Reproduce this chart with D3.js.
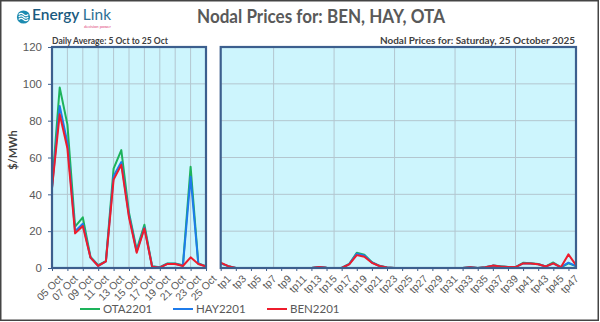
<!DOCTYPE html>
<html><head><meta charset="utf-8">
<script src="https://cdn.jsdelivr.net/npm/d3@7"></script>
<style>html,body{margin:0;padding:0;background:#fff;}svg{display:block;font-family:Lato,"Open Sans",sans-serif;}</style>
</head><body>
<svg id="c" width="600" height="322"></svg>
<script>
const days = ["05 Oct","06 Oct","07 Oct","08 Oct","09 Oct","10 Oct","11 Oct","12 Oct","13 Oct","14 Oct","15 Oct","16 Oct","17 Oct","18 Oct","19 Oct","20 Oct","21 Oct","22 Oct","23 Oct","24 Oct","25 Oct"];
const otaDaily = [44, 98, 78, 22.5, 27.5, 6, 1.5, 3.8, 54, 64, 30, 10, 23.5, 1, 0.4, 2.5, 2.5, 1.5, 55, 2.5, 1];
const hayDaily = [43.5, 88, 68, 20, 24, 5.7, 1.2, 3.6, 50, 57.5, 28.5, 9, 22, 0.8, 0.3, 2.3, 2.3, 1.2, 49.5, 2.3, 0.9];
const benDaily = [43.3, 83.5, 65, 18.8, 22.8, 5.6, 1.1, 3.6, 48, 56, 27.5, 8.3, 21.5, 0.7, 0.2, 2.2, 2.2, 1.1, 5.8, 2.2, 0.8];
const periods = d3.range(1, 49).map(i => "tp" + i);
const otaTp = [2.5,1,0,0,0,0,0,0,0,0,0,0,0,0.5,0.2,0,0,2.2,8.3,7.2,3.2,1.2,0.3,0,0,0,0,0,0,0,0,0,0,0.4,0,0.4,1.3,0.9,0.5,0.5,2.8,2.6,2.2,0.9,3,0.4,2.5,1];
const hayTp = [2.5,1,0,0,0,0,0,0,0,0,0,0,0,0.5,0.2,0,0,2.1,7.8,6.8,3,1.1,0.3,0,0,0,0,0,0,0,0,0,0,0.4,0,0.4,1.3,0.8,0.5,0.5,2.5,2.4,2.0,0.8,2.5,0.4,2.9,1];
const benTp = [2.9,1,0,0,0,0,0,0,0,0,0,0,0,0.5,0.2,0,0,2,7,6.1,2.8,1.1,0.3,0,0,0,0,0,0,0,0,0,0,0.4,0,0.4,1.3,0.8,0.5,0.5,2.5,2.4,2.0,0.8,2.5,0.4,7.4,1.6];
const yTicks = [0,20,40,60,80,100,120];
const seriesNames = ["OTA2201","HAY2201","BEN2201"];
const colors = ["#1DB35B","#1E7BEA","#EE1C2C"];

const svg = d3.select("#c");
const pTop = 47, pBottom = 268;
const y = d3.scaleLinear().domain([0,120]).range([pBottom, pTop]);
const xL = d3.scalePoint().domain(days).range([52, 206]);
const xR = d3.scalePoint().domain(periods).range([220.7, 576]);
const bg = "#CDF5FD", frame = "#3C5F8E", grid = "#B3C6CF", txt = "#595959";

svg.append("rect").attr("x",0.75).attr("y",0.75).attr("width",597.5).attr("height",319.5).attr("fill","none").attr("stroke","#444").attr("stroke-width",1.5);

function panel(x, domainVals, gridIdx, labelIdx, data) {
  const [x0, x1] = x.range();
  svg.append("rect").attr("x",x0).attr("y",pTop).attr("width",x1-x0).attr("height",pBottom-pTop).attr("fill",bg);
  const g = svg.append("g");
  g.selectAll(".hg").data(yTicks.slice(1,-1)).join("line")
    .attr("x1",x0).attr("x2",x1).attr("y1",d=>y(d)).attr("y2",d=>y(d))
    .attr("stroke",grid).attr("stroke-width",1);
  g.selectAll(".vg").data(gridIdx).join("line")
    .attr("x1",i=>x(domainVals[i])).attr("x2",i=>x(domainVals[i])).attr("y1",pTop).attr("y2",pBottom)
    .attr("stroke",grid).attr("stroke-width",1);
  const line = d3.line().x((d,i)=>x(domainVals[i])).y(d=>y(d));
  data.forEach((s,k)=>{
    svg.append("path").datum(s).attr("d",line).attr("fill","none").attr("stroke",colors[k]).attr("stroke-width",2).attr("stroke-linejoin","round");
  });
  const ax = d3.axisBottom(x).tickValues(labelIdx.map(i=>domainVals[i])).tickSize(3).tickPadding(2);
  const axg = svg.append("g").attr("transform",`translate(0,${pBottom})`).call(ax);
  axg.select(".domain").remove();
  axg.selectAll(".tick line").attr("stroke",frame);
  axg.selectAll("text").attr("fill",txt).attr("font-size",10.5).attr("text-anchor","end")
    .attr("transform","translate(4,2) rotate(-45)").attr("dy","0.6em").attr("dx","-0.2em");
  svg.append("rect").attr("x",x0).attr("y",pTop).attr("width",x1-x0).attr("height",pBottom-pTop).attr("fill","none").attr("stroke",frame).attr("stroke-width",2.2);
}

panel(xL, days, [2,4,6,8,10,12,14,16,18], d3.range(0,21,2), [otaDaily,hayDaily,benDaily]);
panel(xR, periods, [7,15,23,31,39], d3.range(0,48,2), [otaTp,hayTp,benTp]);

const ay = d3.axisLeft(y).tickValues(yTicks).tickSize(3).tickPadding(6);
const ayg = svg.append("g").attr("transform","translate(51,0)").call(ay);
ayg.select(".domain").remove();
ayg.selectAll(".tick line").attr("stroke",frame);
ayg.selectAll("text").attr("fill",txt).attr("font-size",11.5);

svg.append("text").attr("transform","translate(17,150) rotate(-90)").attr("text-anchor","middle")
  .attr("font-size",11).attr("font-weight","bold").attr("fill","#404040").text("$/MWh");

svg.append("text").attr("x",197).attr("y",23).attr("font-size",18).attr("font-weight","bold").attr("fill","#595959")
  .attr("textLength",248).attr("lengthAdjust","spacingAndGlyphs").text("Nodal Prices for: BEN, HAY, OTA");
svg.append("text").attr("x",52).attr("y",44).attr("font-size",9.5).attr("font-weight","bold").attr("fill","#404040")
  .attr("textLength",116).attr("lengthAdjust","spacingAndGlyphs").text("Daily Average: 5 Oct to 25 Oct");
svg.append("text").attr("x",380).attr("y",44).attr("font-size",9.5).attr("font-weight","bold").attr("fill","#404040")
  .attr("textLength",195).attr("lengthAdjust","spacingAndGlyphs").text("Nodal Prices for: Saturday, 25 October 2025");

const lg = svg.append("g");
lg.append("circle").attr("cx",23.5).attr("cy",17).attr("r",6.6).attr("fill","#1C8BB0");
[-2.5,0,2.5].forEach(o=>{
  lg.append("path").attr("d",`M${18.7},${17+o} q2.4,-2.4 4.8,0 t4.8,0`).attr("fill","none").attr("stroke","#fff").attr("stroke-width",1.1);
});
lg.append("text").attr("x",32).attr("y",20).attr("font-size",14.5).attr("fill","#1A5A80").attr("font-weight","600")
  .attr("textLength",79).attr("lengthAdjust","spacingAndGlyphs")
  .html('Energy <tspan fill="#2E6F95" font-weight="400">Link</tspan>');
lg.append("text").attr("x",84).attr("y",27.5).attr("font-size",3.4).attr("fill","#E0457B")
  .attr("textLength",27).attr("lengthAdjust","spacingAndGlyphs").text("decision power");

const legX = [80,173,267];
seriesNames.forEach((n,k)=>{
  svg.append("line").attr("x1",legX[k]).attr("x2",legX[k]+20).attr("y1",309).attr("y2",309).attr("stroke",colors[k]).attr("stroke-width",2);
  svg.append("text").attr("x",legX[k]+23).attr("y",313).attr("font-size",11.5).attr("fill",txt).text(n);
});
</script>
</body></html>
